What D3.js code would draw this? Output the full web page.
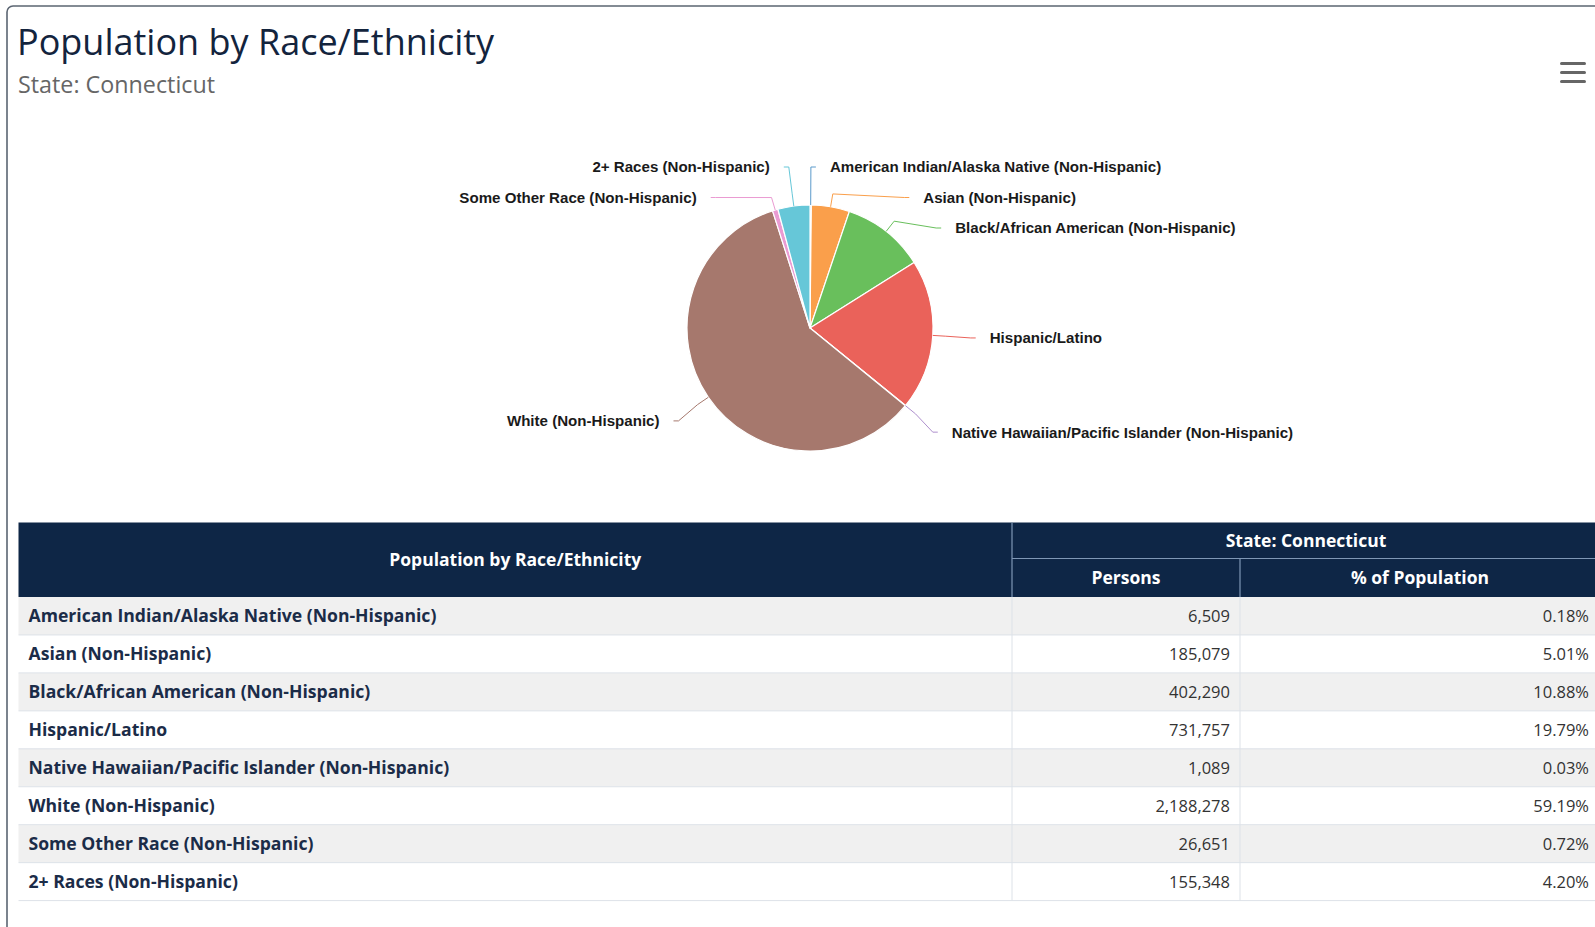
<!DOCTYPE html>
<html><head><meta charset="utf-8">
<script src="https://cdn.jsdelivr.net/npm/d3@7/dist/d3.min.js"></script>
<style>
html,body{margin:0;padding:0;background:#fff;overflow:hidden;}
svg{display:block;}
</style></head>
<body>
<svg id="chart" width="1595" height="927"></svg>
<script>
// ---------- data ----------
const chartTitle = "Population by Race/Ethnicity";
const chartSubtitle = "State: Connecticut";
const categories = [
  "American Indian/Alaska Native (Non-Hispanic)",
  "Asian (Non-Hispanic)",
  "Black/African American (Non-Hispanic)",
  "Hispanic/Latino",
  "Native Hawaiian/Pacific Islander (Non-Hispanic)",
  "White (Non-Hispanic)",
  "Some Other Race (Non-Hispanic)",
  "2+ Races (Non-Hispanic)"
];
const persons = [6509, 185079, 402290, 731757, 1089, 2188278, 26651, 155348];
const percentOfPopulation = [0.18, 5.01, 10.88, 19.79, 0.03, 59.19, 0.72, 4.20];
const sliceColors = ["#5b9acb", "#fa9f4b", "#69bf5c", "#ea625a", "#ae90cd", "#a6786d", "#ea9bd2", "#66c7d8"];
const tableHeaders = ["Population by Race/Ethnicity", "State: Connecticut", "Persons", "% of Population"];

// ---------- setup ----------
const svg = d3.select("#chart");
const W = 1595, H = 927;
svg.append("rect").attr("width", W).attr("height", H).attr("fill", "#fff");

// frame
svg.append("rect").attr("x", 7).attr("y", 6).attr("width", 1620).attr("height", 960)
  .attr("rx", 6).attr("fill", "none").attr("stroke", "#5b6572").attr("stroke-width", 1.6);

// title
svg.append("text").attr("x", 17).attr("y", 55).text(chartTitle)
  .attr("font-family", "'Open Sans', sans-serif").attr("font-size", 36).attr("fill", "#13243d");
svg.append("text").attr("x", 18).attr("y", 92.5).text(chartSubtitle)
  .attr("font-family", "'Open Sans', sans-serif").attr("font-size", 23.3).attr("fill", "#666");

// hamburger menu
[63.5, 72.5, 81.5].forEach(y => {
  svg.append("line").attr("x1", 1561.5).attr("x2", 1584.5).attr("y1", y).attr("y2", y)
    .attr("stroke", "#666").attr("stroke-width", 3).attr("stroke-linecap", "round");
});

// ---------- pie ----------
const data = categories.map((c, i) => ({ name: c, persons: persons[i], pct: percentOfPopulation[i], color: sliceColors[i] }));
const cx = 810, cy = 328, R = 123;
const pie = d3.pie().sort(null).value(d => d.persons);
const arcs = pie(data);
const arcGen = d3.arc().innerRadius(0).outerRadius(R);
const gPie = svg.append("g").attr("transform", `translate(${cx},${cy})`);
gPie.selectAll("path").data(arcs).join("path")
  .attr("d", arcGen).attr("fill", d => d.data.color)
  .attr("stroke", "#ffffff").attr("stroke-width", 1.2).attr("stroke-linejoin", "round");

// label layout (Highcharts-like)
const Ry = 165, Rx = 161, topLimit = cy - 161, spacing = 30.5;
const labels = arcs.map(a => {
  const th = (a.startAngle + a.endAngle) / 2;
  return { a, th, side: th < Math.PI ? 1 : -1, natY: cy - Ry * Math.cos(th) };
});
[1, -1].forEach(side => {
  const grp = labels.filter(l => l.side === side).sort((p, q) => p.natY - q.natY);
  let prev = -Infinity;
  grp.forEach((l, i) => {
    l.y = Math.max(l.natY, prev + spacing, topLimit);
    prev = l.y;
    if (i === 0 && l.natY <= topLimit) {
      l.x = cx + Rx * Math.sin(l.th);
    } else {
      l.x = cx + side * Math.sqrt(Math.max(0, Rx * Rx - (l.y - cy) * (l.y - cy)));
    }
  });
});
const pt = (th, r) => [cx + r * Math.sin(th), cy - r * Math.cos(th)];
const lineGen = d3.line();
svg.append("g").selectAll("path").data(labels).join("path")
  .attr("d", l => lineGen([[l.x + l.side * 5, l.y], [l.x, l.y], pt(l.th, R + 13), pt(l.th, R)]))
  .attr("fill", "none").attr("stroke", l => l.a.data.color).attr("stroke-width", 1);
svg.append("g").selectAll("text").data(labels).join("text")
  .attr("x", l => l.x + l.side * 19).attr("y", l => l.y).attr("dy", "0.36em")
  .attr("text-anchor", l => l.side > 0 ? "start" : "end")
  .attr("font-family", "'Liberation Sans', Arial, sans-serif").attr("font-weight", "bold")
  .attr("font-size", 15.1).attr("fill", "#1a1a1a")
  .text(l => l.a.data.name);

// ---------- table ----------
const colEdges = [18.5, 1012, 1240, 1600];
const headTop = 522.5, headMid = 558.5, headBottom = 597, tableBottom = 900.6;
const rowY = d3.scaleBand().domain(categories).range([headBottom, tableBottom]);
const tFont = "'Open Sans', sans-serif";
const gT = svg.append("g");

// body rows
gT.selectAll("rect.row").data(data).join("rect").attr("class", "row")
  .attr("x", colEdges[0]).attr("width", colEdges[3] - colEdges[0])
  .attr("y", d => rowY(d.name)).attr("height", rowY.bandwidth())
  .attr("fill", (d, i) => i % 2 === 0 ? "#f0f0f0" : "#ffffff");
gT.selectAll("line.rowline").data(data).join("line").attr("class", "rowline")
  .attr("x1", colEdges[0]).attr("x2", colEdges[3])
  .attr("y1", d => rowY(d.name) + rowY.bandwidth()).attr("y2", d => rowY(d.name) + rowY.bandwidth())
  .attr("stroke", "#dde2e8").attr("stroke-width", 1);
[colEdges[1], colEdges[2]].forEach(x => {
  gT.append("line").attr("x1", x).attr("x2", x).attr("y1", headBottom).attr("y2", tableBottom)
    .attr("stroke", "#dde2e8").attr("stroke-width", 1);
});

// header
gT.append("rect").attr("x", colEdges[0]).attr("y", headTop).attr("width", colEdges[3] - colEdges[0])
  .attr("height", headBottom - headTop).attr("fill", "#0e2646");
const hdrLine = "#7f97b5";
gT.append("line").attr("x1", colEdges[1]).attr("x2", colEdges[1]).attr("y1", headTop).attr("y2", headBottom)
  .attr("stroke", hdrLine).attr("stroke-width", 1.2);
gT.append("line").attr("x1", colEdges[1]).attr("x2", colEdges[3]).attr("y1", headMid).attr("y2", headMid)
  .attr("stroke", hdrLine).attr("stroke-width", 1.2);
gT.append("line").attr("x1", colEdges[2]).attr("x2", colEdges[2]).attr("y1", headMid).attr("y2", headBottom)
  .attr("stroke", hdrLine).attr("stroke-width", 1.2);

const hdr = (txt, x, y) => gT.append("text").attr("x", x).attr("y", y).attr("dy", "0.36em")
  .attr("text-anchor", "middle").attr("font-family", tFont).attr("font-weight", "bold")
  .attr("font-size", 17.5).attr("fill", "#ffffff").text(txt);
hdr(tableHeaders[0], (colEdges[0] + colEdges[1]) / 2, (headTop + headBottom) / 2);
hdr(tableHeaders[1], (colEdges[1] + colEdges[3]) / 2, (headTop + headMid) / 2);
hdr(tableHeaders[2], (colEdges[1] + colEdges[2]) / 2, (headMid + headBottom) / 2);
hdr(tableHeaders[3], (colEdges[2] + colEdges[3]) / 2, (headMid + headBottom) / 2);

// body text
const fmt = d3.format(",");
gT.selectAll("text.lbl").data(data).join("text").attr("class", "lbl")
  .attr("x", colEdges[0] + 10).attr("y", d => rowY(d.name) + rowY.bandwidth() / 2).attr("dy", "0.36em")
  .attr("font-family", tFont).attr("font-weight", "bold").attr("font-size", 17.6).attr("fill", "#1b2c48")
  .text(d => d.name);
gT.selectAll("text.num").data(data).join("text").attr("class", "num")
  .attr("x", colEdges[2] - 10).attr("y", d => rowY(d.name) + rowY.bandwidth() / 2).attr("dy", "0.36em")
  .attr("text-anchor", "end").attr("font-family", tFont).attr("font-size", 16.5).attr("fill", "#333")
  .text(d => fmt(d.persons));
gT.selectAll("text.pct").data(data).join("text").attr("class", "pct")
  .attr("x", 1589).attr("y", d => rowY(d.name) + rowY.bandwidth() / 2).attr("dy", "0.36em")
  .attr("text-anchor", "end").attr("font-family", tFont).attr("font-size", 16.5).attr("fill", "#333")
  .text(d => d.pct.toFixed(2) + "%");
</script>
</body></html>
